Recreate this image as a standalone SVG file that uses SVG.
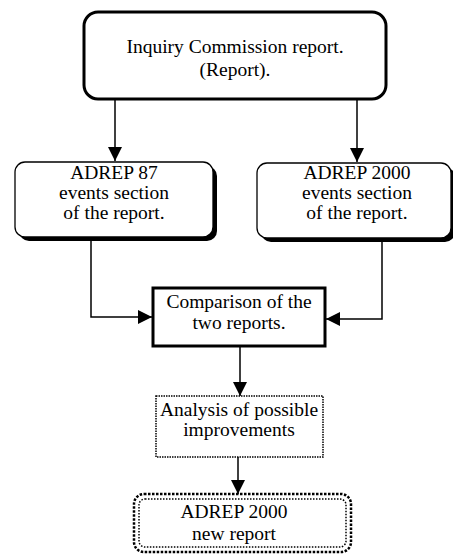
<svg xmlns="http://www.w3.org/2000/svg" width="453" height="556" viewBox="0 0 453 556">
<defs>
<style>
text{font-family:"Liberation Serif","Times New Roman",serif;font-size:19.5px;fill:#000;text-anchor:middle}
.ln{fill:none;stroke:#000;stroke-width:1.5}
</style>
<marker id="ah" viewBox="0 0 10 10" refX="10" refY="5" markerWidth="14" markerHeight="14" markerUnits="userSpaceOnUse" orient="auto">
<path d="M0,0 L10,5 L0,10 Z" fill="#000"/>
</marker>
</defs>
<rect width="453" height="556" fill="#fff"/>
<g id="connectors">
<path class="ln" d="M115,99 V161" marker-end="url(#ah)"/>
<path class="ln" d="M357,99 V162" marker-end="url(#ah)"/>
<path class="ln" d="M91,238 V317 H152" marker-end="url(#ah)"/>
<path class="ln" d="M382,240 V319 H326" marker-end="url(#ah)"/>
<path class="ln" d="M240,346 V396" marker-end="url(#ah)"/>
<path class="ln" d="M238,457 V494" marker-end="url(#ah)"/>
</g>
<g id="inquiry">
<rect x="84" y="12" width="302" height="87" rx="14" fill="#fff" stroke="#000" stroke-width="3"/>
<text x="235" y="53">Inquiry Commission report.</text>
<text x="235" y="76">(Report).</text>
</g>
<g id="adrep87">
<rect x="19" y="166" width="198" height="75" rx="10" fill="#000"/>
<rect x="15" y="162" width="198" height="75" rx="10" fill="#fff" stroke="#000" stroke-width="1.3"/>
<text x="114" y="179">ADREP 87</text>
<text x="114" y="199">events section</text>
<text x="114" y="219">of the report.</text>
</g>
<g id="adrep2000">
<rect x="261" y="167" width="194" height="75" rx="10" fill="#000"/>
<rect x="257" y="163" width="194" height="75" rx="10" fill="#fff" stroke="#000" stroke-width="1.3"/>
<text x="357" y="179">ADREP 2000</text>
<text x="357" y="199">events section</text>
<text x="357" y="219">of the report.</text>
</g>
<g id="comparison">
<rect x="153" y="288" width="172" height="58" fill="#fff" stroke="#000" stroke-width="3"/>
<text x="239" y="308">Comparison of the</text>
<text x="239" y="329">two reports.</text>
</g>
<g id="analysis">
<rect x="156" y="396" width="167" height="61" fill="#fff" stroke="#000" stroke-width="1.5" stroke-dasharray="1.5 1"/>
<text x="239" y="416">Analysis of possible</text>
<text x="239" y="436">improvements</text>
</g>
<g id="newreport">
<rect x="134" y="494" width="217" height="58" rx="10" fill="#fff" stroke="#000" stroke-width="2.5" stroke-dasharray="2.5 1.5"/>
<rect x="139" y="499" width="207" height="48" rx="6" fill="none" stroke="#000" stroke-width="1.5" stroke-dasharray="1.5 1.5"/>
<text x="234" y="518">ADREP 2000</text>
<text x="234" y="540">new report</text>
</g>
</svg>
